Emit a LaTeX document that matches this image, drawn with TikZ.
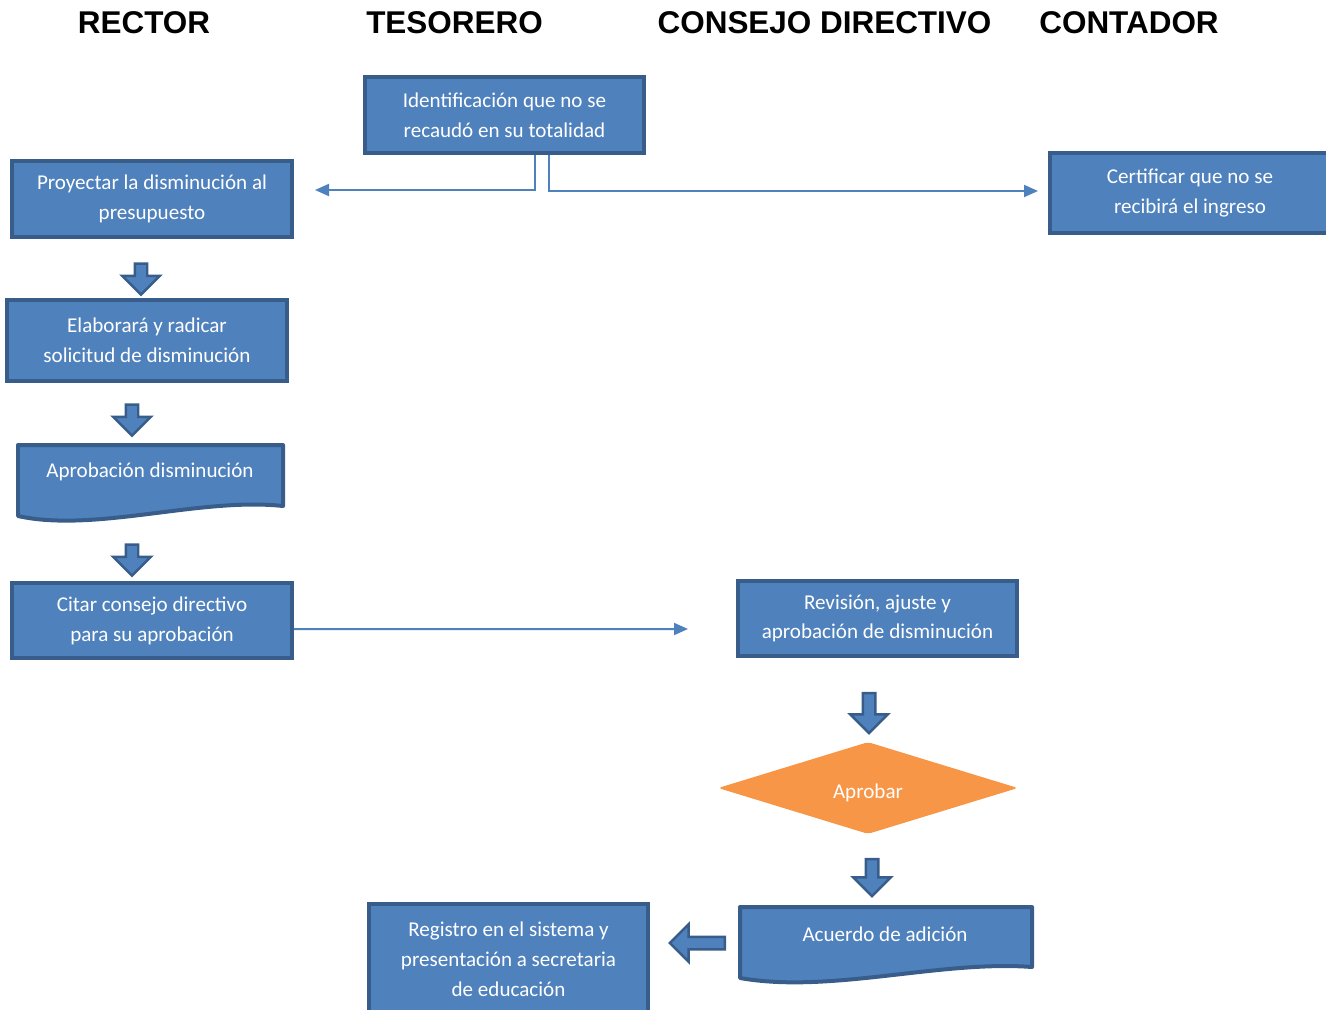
\documentclass[tikz,border=0pt]{standalone}
\usepackage{fontspec}
\setmainfont{Carlito}
\newfontfamily\hdrfont{Liberation Sans}
\usetikzlibrary{arrows.meta,shapes.geometric,shapes.arrows}

\definecolor{boxfill}{HTML}{4F81BD}
\definecolor{boxline}{HTML}{385D8A}
\definecolor{decfill}{HTML}{F79646}

\tikzset{
	procbox/.style={draw=boxline, fill=boxfill, line width=0.08cm, text=white, align=center,
		font=\fontsize{12}{17}\selectfont, inner sep=0pt},
	doctext/.style={text=white, align=center, font=\fontsize{12}{17}\selectfont, inner sep=0pt},
	docbox/.style={draw=boxline, fill=boxfill, line width=0.08cm, line join=round},
	decbox/.style={diamond, fill=decfill, text=white, font=\fontsize{12}{17}\selectfont,
		aspect=3.26, minimum width=6cm, minimum height=1.84cm, inner sep=0pt, rounded corners=2pt},
	lane/.style={font=\hdrfont\bfseries\fontsize{17.9}{20}\selectfont},
	conn/.style={draw=boxfill, line width=0.04cm, -{Triangle[length=0.28cm,width=0.24cm]}},
	blockarrow/.style={single arrow, draw=boxline, fill=boxfill, line width=0.05cm, inner sep=0pt,
		minimum height=0.62cm, minimum width=0.7cm, single arrow head indent=0pt}
}

\newcommand{\shaft}{\rule{0pt}{0.2cm}}

\begin{document}
\begin{tikzpicture}[x=0.02cm, y=-0.02cm]
	\useasboundingbox (0,0) rectangle (1326,1010);

	% lanes
	\node[lane] (rector)   at (144,  23) {RECTOR};
	\node[lane] (tesorero) at (454.5,23) {TESORERO};
	\node[lane] (consejo)  at (824.5,23) {CONSEJO DIRECTIVO};
	\node[lane] (contador) at (1129, 23) {CONTADOR};

	% boxes
	\node[procbox, minimum width=5.58cm, minimum height=1.52cm] (ident)   at (504.5,115) {Identificación que no se\\recaudó en su totalidad};
	\node[procbox, minimum width=5.6cm,  minimum height=1.52cm] (proy)    at (152,  199) {Proyectar la disminución al\\presupuesto};
	\node[procbox, minimum width=5.6cm,  minimum height=1.62cm] (elab)    at (147,  340.5) {Elaborará y radicar\\solicitud de disminución};
	\node[procbox, minimum width=5.6cm,  minimum height=1.5cm]  (citar)   at (152,  620.5) {Citar consejo directivo\\para su aprobación};
	\node[procbox, minimum width=5.58cm, minimum height=1.5cm]  (revis)   at (877.5,618.5) {Revisión, ajuste y\\aprobación de disminución};
	\node[procbox, minimum width=5.6cm,  minimum height=1.6cm]  (certif)  at (1190, 193) {Certificar que no se\\recibirá el ingreso};
	\node[procbox, minimum width=5.58cm, minimum height=2.2cm]  (registro) at (508.5,959) {Registro en el sistema y\\presentación a secretaria\\de educación};
	\node[decbox] (aprobar) at (868,788) {\raisebox{-0.1cm}[0.2cm][0pt]{Aprobar}};

	% document shapes
	\draw[docbox] (18,445) -- (283,445) -- (283,506) .. controls (200,497) and (95,533) .. (18,516) -- cycle;
	\node[doctext] (aprobdism) at (150,472) {Aprobación disminución};
	\draw[docbox] (740,907) -- (1032,907) -- (1032,967) .. controls (940,960) and (830,994) .. (740,978) -- cycle;
	\node[doctext] (acuerdo) at (885,934) {Acuerdo de adición};

	% block arrows
	\node[blockarrow, rotate=-90] (ba1) at (141,276) {\shaft};
	\node[blockarrow, rotate=-90] (ba2) at (132,417) {\shaft};
	\node[blockarrow, rotate=-90] (ba3) at (132,557) {\shaft};
	\node[blockarrow, rotate=-90, minimum height=0.8cm] (ba4) at (869,710) {\shaft};
	\node[blockarrow, rotate=-90, minimum height=0.74cm] (ba5) at (872,874.5) {\shaft};
	\node[blockarrow, rotate=180, minimum height=1.1cm, minimum width=0.64cm] (ba6) at (700.5,943) {\shaft};

	% connectors
	\coordinate (toproy)   at (315,190);
	\coordinate (tocertif) at (1038,191);
	\coordinate (torevis)  at (688,629);
	\draw[conn] ([xshift=0.61cm]ident.south) |- (toproy);
	\draw[conn] ([xshift=0.89cm]ident.south) |- (tocertif);
	\draw[conn] ([yshift=-0.17cm]citar.east) -- (torevis);
\end{tikzpicture}
\end{document}
